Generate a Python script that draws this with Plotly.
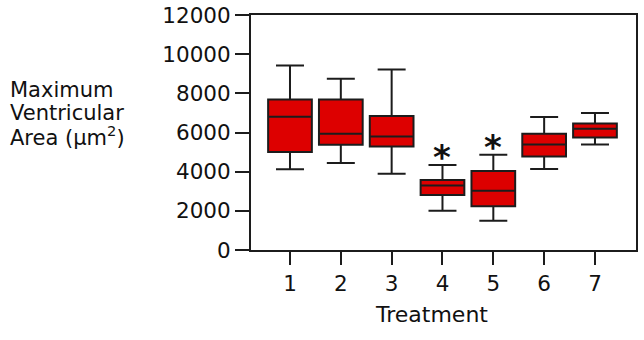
import plotly.graph_objects as go

treatments = [1, 2, 3, 4, 5, 6, 7]
lower_whisker = [4120, 4440, 3900, 2010, 1500, 4130, 5390]
q1_values = [5010, 5370, 5290, 2810, 2230, 4780, 5750]
medians = [6800, 5930, 5800, 3300, 3030, 5390, 6190]
q3_values = [7690, 7690, 6840, 3570, 4030, 5935, 6460]
upper_whisker = [9420, 8740, 9220, 4340, 4860, 6790, 6990]
significant = [4, 5]
y_ticks = [0, 2000, 4000, 6000, 8000, 10000, 12000]

FONT = "DejaVu Sans, Verdana, sans-serif"
INK = "#1c1c1c"
RED = "#dd0000"

fig = go.Figure()
fig.add_trace(go.Box(
    x=treatments,
    q1=q1_values,
    median=medians,
    q3=q3_values,
    lowerfence=lower_whisker,
    upperfence=upper_whisker,
    width=0.86,
    whiskerwidth=0.64,
    fillcolor=RED,
    line=dict(color=INK, width=2),
    boxpoints=False,
    hoverinfo="skip",
    showlegend=False,
))

for t in significant:
    i = treatments.index(t)
    fig.add_annotation(
        x=t, y=upper_whisker[i], xref="x", yref="y",
        text="<b>*</b>", showarrow=False, yanchor="bottom",
        yshift=-14,
        font=dict(family=FONT, size=34, color="#111111"),
    )

fig.update_xaxes(
    range=[0.233, 7.807], automargin=False,
    tickmode="array", tickvals=treatments, ticktext=[str(t) for t in treatments],
    ticks="outside", ticklen=13, tickwidth=2, tickcolor=INK,
    showline=True, linecolor=INK, linewidth=2, mirror=True,
    showgrid=False, zeroline=False,
    tickfont=dict(family=FONT, size=21.5, color="#111111"),
)
fig.update_yaxes(
    range=[0, 12000], automargin=False,
    tickmode="array", tickvals=y_ticks, ticktext=[str(v) for v in y_ticks],
    ticks="outside", ticklen=14, tickwidth=2, tickcolor=INK,
    showline=True, linecolor=INK, linewidth=2, mirror=True,
    showgrid=False, zeroline=False,
    tickfont=dict(family=FONT, size=21.5, color="#111111"),
)

# y-axis title (three left-aligned lines)
title_lines = ["Maximum", "Ventricular", "Area (μm<sup>2</sup>)"]
for k, line in enumerate(title_lines):
    fig.add_annotation(
        x=0, y=(250 - (90 + 23 * k)) / 235.3, xref="paper", yref="paper",
        xanchor="left", yanchor="middle", xshift=-243,
        text=line, showarrow=False, align="left",
        font=dict(family=FONT, size=21, color="#111111"),
    )

fig.add_annotation(
    x=(431 - 251) / 385, y=(250 - 315) / 235.3, xref="paper", yref="paper",
    xanchor="center", yanchor="middle",
    text="Treatment", showarrow=False,
    font=dict(family=FONT, size=22, color="#111111"),
)

fig.update_layout(
    width=644, height=340,
    margin=dict(l=251, r=8, t=15, b=90),
    paper_bgcolor="white", plot_bgcolor="white",
)

fig.write_html("out.html")
